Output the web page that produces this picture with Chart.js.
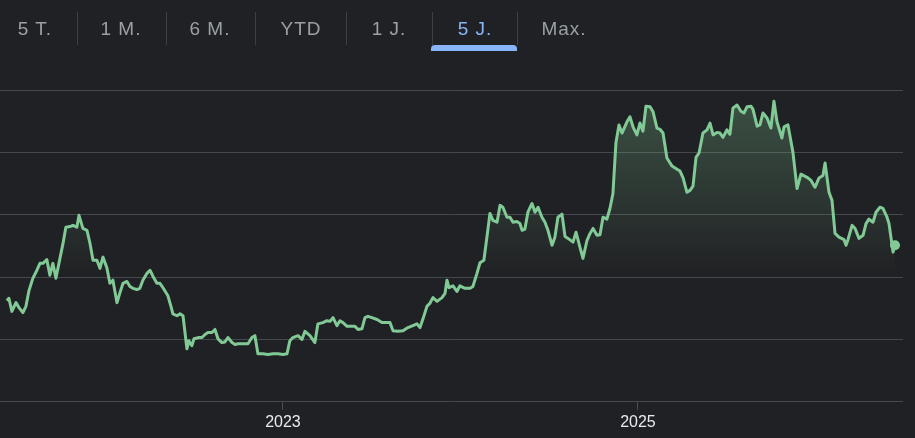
<!DOCTYPE html>
<html>
<head>
<meta charset="utf-8">
<script src="https://cdn.jsdelivr.net/npm/chart.js@4/dist/chart.umd.min.js"></script>
<style>
  html, body { margin:0; padding:0; background:#202124; }
  #wrap { position:relative; width:915px; height:438px; overflow:hidden; background:#202124; }
  #c { position:absolute; left:-5px; top:0; }
  .tab { position:absolute; top:17px; transform:translateX(-50%); font-family:"Liberation Sans", Arial, sans-serif; font-size:19px; color:#9aa0a6; letter-spacing:1px; white-space:nowrap; line-height:24px; }
  .tab.active { color:#8ab4f8; }
  .sep { position:absolute; top:12px; width:1px; height:33px; background:#3c4043; }
  .bar { position:absolute; top:45px; height:6px; background:#8ab4f8; border-radius:4px 4px 0 0; }
</style>
</head>
<body>
<div id="wrap">
  <canvas id="c" width="920" height="438"></canvas>
  <div id="tabs"></div>
</div>
<script>
const rangeTabs = ["5 T.", "1 M.", "6 M.", "YTD", "1 J.", "5 J.", "Max."];
const activeTab = "5 J.";
const xTickYears = [2023, 2025];

const datesA = [2021.445,2021.456,2021.473,2021.496,2021.513,2021.535,2021.552,2021.569,2021.591,2021.614,2021.631,2021.648,2021.670,2021.687,2021.704,2021.721,2021.738,2021.761,2021.777,2021.800,2021.817,2021.839,2021.851,2021.873,2021.896,2021.913,2021.930,2021.952,2021.969,2021.986,2022.008,2022.025,2022.042,2022.065,2022.082,2022.099,2022.121,2022.138,2022.155,2022.177,2022.194,2022.211,2022.234,2022.251,2022.268,2022.290,2022.307,2022.324,2022.352,2022.369,2022.380,2022.403,2022.420,2022.437];
const pricesA = [16.2,16.6,14.5,15.9,15.1,14.3,15.3,17.8,19.8,21.1,22.2,22.2,22.8,20.3,22.2,19.8,22.2,25.4,28.0,28.1,28.3,28.0,29.9,27.8,27.5,25.4,22.7,22.7,21.4,23.2,21.5,19.0,19.5,15.9,17.5,19.0,19.3,18.5,18.2,18.0,18.2,19.5,20.6,21.1,20.1,19.0,19.0,18.3,17.0,15.3,14.1,13.8,14.1,13.8];

const datesB = [2022.459,2022.470,2022.487,2022.499,2022.527,2022.544,2022.561,2022.577,2022.600,2022.617,2022.634,2022.656,2022.673,2022.690,2022.713,2022.730,2022.746,2022.775,2022.803,2022.825,2022.842,2022.859,2022.887,2022.915,2022.944,2022.972,2023.000,2023.023,2023.039,2023.056,2023.085,2023.107,2023.124,2023.152,2023.180,2023.197,2023.225,2023.248,2023.265,2023.282,2023.304,2023.321,2023.338,2023.361,2023.389,2023.406,2023.423,2023.445,2023.462,2023.479];
const pricesB = [8.5,9.8,9.0,10.1,10.3,10.3,10.8,11.1,11.1,11.6,10.1,9.5,9.6,10.3,9.5,9.2,9.3,9.3,9.3,10.3,10.6,7.7,7.7,7.6,7.7,7.7,7.6,7.7,9.8,10.3,10.6,10.0,11.3,10.6,9.5,12.5,12.7,13.0,12.9,13.5,12.2,13.0,12.7,12.1,12.1,12.1,11.6,11.7,13.5,13.7];

const datesC = [2023.501,2023.530,2023.558,2023.586,2023.603,2023.620,2023.648,2023.676,2023.704,2023.732,2023.755,2023.772,2023.789,2023.811,2023.828,2023.845,2023.868,2023.896,2023.913,2023.924,2023.935,2023.958,2023.980,2023.997,2024.025,2024.054,2024.070,2024.093,2024.110,2024.132,2024.149,2024.166,2024.183,2024.206,2024.223,2024.239,2024.262,2024.279,2024.296,2024.318,2024.335,2024.347,2024.363,2024.380,2024.403,2024.420,2024.437,2024.459,2024.476,2024.493,2024.516,2024.532,2024.549,2024.572,2024.589,2024.606,2024.634,2024.651,2024.673,2024.690,2024.713,2024.730,2024.747,2024.769,2024.786,2024.803,2024.825,2024.842];
const pricesC = [13.5,13.2,12.7,12.7,12.7,11.4,11.3,11.4,11.9,12.2,12.5,11.9,13.3,15.3,15.8,16.7,16.1,16.7,17.4,19.5,18.3,18.6,17.7,18.6,18.2,18.2,18.5,20.6,22.3,22.7,26.4,30.2,29.1,28.8,31.5,31.2,29.6,29.6,28.8,28.9,28.6,27.5,27.7,30.4,31.8,30.4,31.2,29.6,28.8,27.5,25.1,26.4,29.6,30.1,26.5,26.2,25.6,27.2,24.8,23.0,25.9,27.0,27.8,26.7,26.8,29.6,29.3,31.0];

const datesD = [2024.859,2024.876,2024.893,2024.910,2024.938,2024.955,2024.972,2024.994,2025.011,2025.028,2025.045,2025.068,2025.085,2025.107,2025.124,2025.141,2025.163,2025.192,2025.220,2025.237,2025.254,2025.276,2025.293,2025.310,2025.327,2025.344,2025.366,2025.389,2025.406,2025.423,2025.445,2025.462,2025.479,2025.501,2025.518,2025.535,2025.558,2025.580,2025.597,2025.614,2025.637,2025.648,2025.671,2025.687,2025.704,2025.727,2025.749,2025.766,2025.783,2025.811,2025.823,2025.845,2025.873,2025.896,2025.918,2025.952,2025.975,2025.997,2026.020,2026.042,2026.054,2026.076,2026.093,2026.110,2026.132,2026.161,2026.172,2026.183,2026.206,2026.223,2026.245,2026.268,2026.285,2026.301,2026.324,2026.341,2026.363,2026.380,2026.403,2026.414,2026.437,2026.448];
const pricesD = [33.4,41.6,44.4,43.1,44.9,45.7,44.1,42.8,44.7,43.4,47.4,47.3,46.5,43.9,43.7,43.1,39.1,37.8,37.3,37.0,35.9,33.6,33.9,34.6,39.2,39.9,43.1,43.6,44.7,42.8,43.2,43.1,42.4,43.6,42.9,47.1,47.6,46.6,46.3,47.3,47.4,46.9,44.2,44.4,46.3,45.5,43.9,48.2,44.9,42.3,44.1,44.4,40.0,34.2,36.5,36.0,35.5,34.4,35.9,36.3,38.3,33.6,32.3,27.0,26.4,26.0,25.1,26.0,28.3,27.8,26.2,26.7,28.6,29.3,28.8,30.4,31.2,31.0,29.6,28.6,24.0,25.1];

const dates = [].concat(datesA, datesB, datesC, datesD);
const prices = [].concat(pricesA, pricesB, pricesC, pricesD);

// tabs
const tabCenters = [35, 121, 210, 301, 389, 475, 564];
const sepXs = [76.5, 165.5, 255, 346, 431.5, 516.5];
const tabsEl = document.getElementById('tabs');
rangeTabs.forEach((t, i) => {
  const d = document.createElement('div');
  d.className = 'tab' + (t === activeTab ? ' active' : '');
  d.style.left = tabCenters[i] + 'px';
  d.textContent = t;
  tabsEl.appendChild(d);
});
sepXs.forEach(x => {
  const s = document.createElement('div');
  s.className = 'sep';
  s.style.left = x + 'px';
  tabsEl.appendChild(s);
});
const bar = document.createElement('div');
bar.className = 'bar';
bar.style.left = '431px';
bar.style.width = '86px';
tabsEl.appendChild(bar);

const lineColor = '#81c995';
const data = dates.map((d, i) => ({ x: d, y: prices[i] }));
const last = data.length - 1;

new Chart(document.getElementById('c'), {
  type: 'line',
  data: {
    datasets: [{
      data: data,
      borderColor: lineColor,
      borderWidth: 3,
      borderJoinStyle: 'round',
      tension: 0,
      fill: 'start',
      backgroundColor: (ctx) => {
        const ca = ctx.chart.chartArea;
        if (!ca) return 'rgba(129,201,149,0.15)';
        const g = ctx.chart.ctx.createLinearGradient(0, ca.top, 0, ca.top + (ca.bottom - ca.top) * 0.6);
        g.addColorStop(0, 'rgba(129,201,149,0.3)');
        g.addColorStop(1, 'rgba(129,201,149,0)');
        return g;
      },
      pointRadius: (ctx) => ctx.dataIndex === last ? 5 : 0,
      pointHoverRadius: 0,
      pointBackgroundColor: lineColor,
      pointBorderWidth: 0,
      clip: false
    }]
  },
  options: {
    responsive: false,
    animation: false,
    events: [],
    layout: { padding: { top: 90, left: 0, right: 12, bottom: 3 } },
    plugins: { legend: { display: false }, tooltip: { enabled: false } },
    scales: {
      x: {
        type: 'linear',
        min: 2021.406,
        max: 2026.493,
        afterBuildTicks: (scale) => { scale.ticks = xTickYears.map(v => ({ value: v })); },
        ticks: {
          autoSkip: false, maxRotation: 0, padding: 3,
          color: '#e8eaed',
          font: { family: '"Liberation Sans", Arial, sans-serif', size: 16 },
          callback: (v) => String(v)
        },
        grid: { drawOnChartArea: false, drawTicks: true, tickLength: 8, color: '#4a4d51', lineWidth: 1 },
        border: { display: false }
      },
      y: {
        min: 0, max: 50,
        afterFit: (scale) => { scale.width = 0; },
        ticks: { display: false, stepSize: 10, padding: 0 },
        grid: { color: '#45484c', lineWidth: 1, drawTicks: false },
        border: { display: false }
      }
    }
  }
});
</script>
</body>
</html>
